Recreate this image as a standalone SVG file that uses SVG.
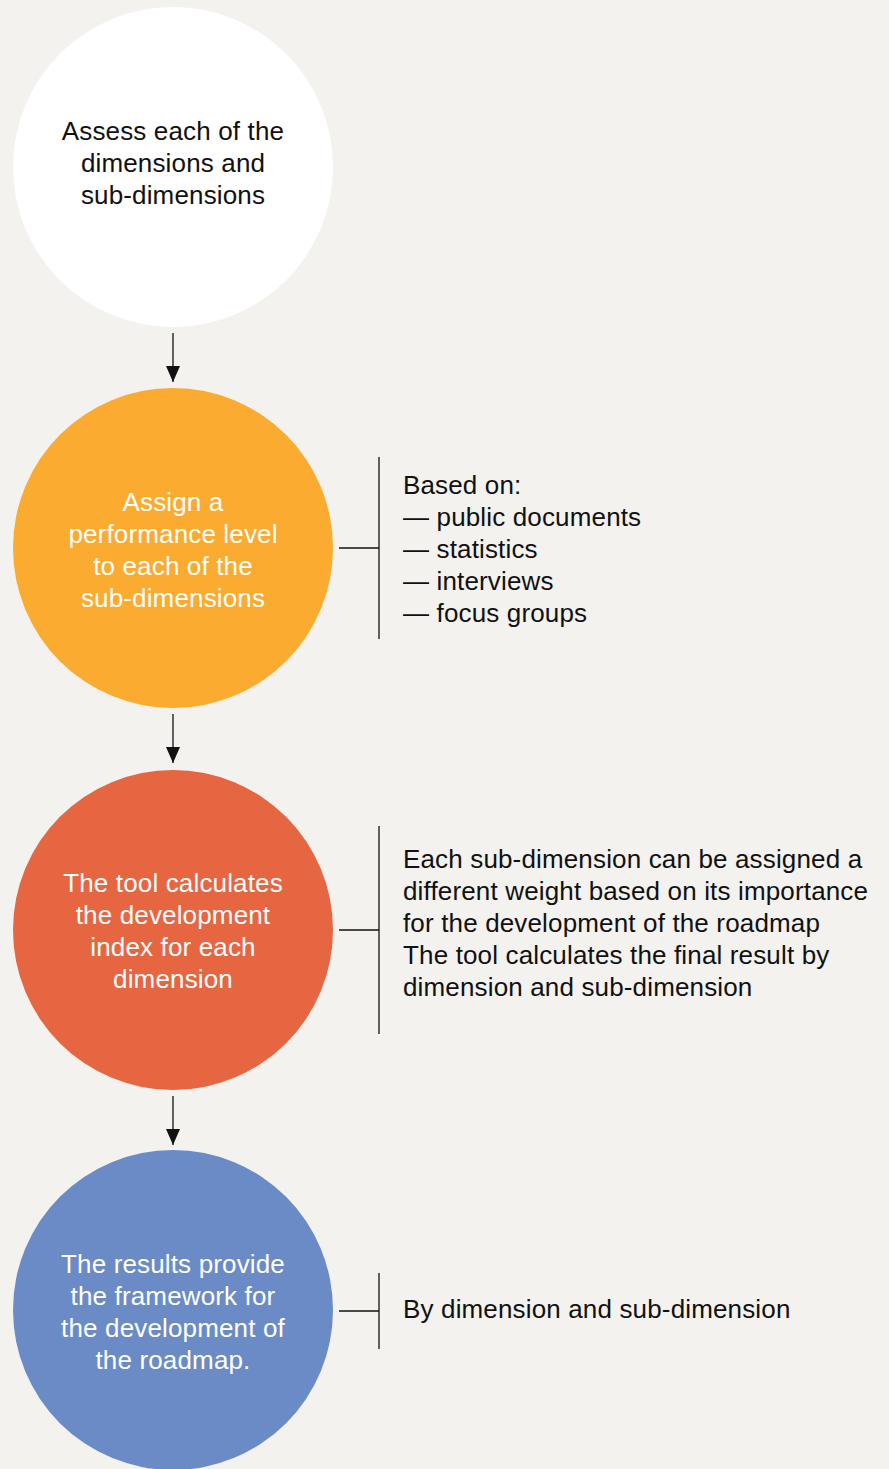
<svg xmlns="http://www.w3.org/2000/svg" width="889" height="1469" viewBox="0 0 889 1469">
<defs>
<style>
.t{font-family:"Liberation Sans",Arial,sans-serif;font-size:26px;letter-spacing:0.15px}
.c{text-anchor:middle}
.w{fill:#ffffff}
.k{fill:#111111}
.ln{stroke:#111111;stroke-width:1.3;fill:none}
</style>
<marker id="ah" viewBox="0 0 16 14" refX="16" refY="7" markerWidth="16" markerHeight="14" markerUnits="userSpaceOnUse" orient="auto">
<path d="M0,0 L16,7 L0,14 Z" fill="#111111"/>
</marker>
</defs>
<rect x="0" y="0" width="889" height="1469" fill="#f3f2ee"/>
<g id="connectors">
<line class="ln" x1="173" y1="333" x2="173" y2="382" marker-end="url(#ah)"/>
<line class="ln" x1="173" y1="714" x2="173" y2="763" marker-end="url(#ah)"/>
<line class="ln" x1="173" y1="1096" x2="173" y2="1145" marker-end="url(#ah)"/>
<line class="ln" x1="339" y1="548" x2="379" y2="548"/>
<line class="ln" x1="379" y1="457" x2="379" y2="639"/>
<line class="ln" x1="339" y1="930" x2="379" y2="930"/>
<line class="ln" x1="379" y1="826" x2="379" y2="1034"/>
<line class="ln" x1="339" y1="1311" x2="379" y2="1311"/>
<line class="ln" x1="379" y1="1273" x2="379" y2="1349"/>
</g>
<g id="node1">
<circle cx="173" cy="167" r="160" fill="#ffffff"/>
<text class="t c k" x="173"><tspan x="173" y="140">Assess each of the</tspan><tspan x="173" y="172">dimensions and</tspan><tspan x="173" y="204">sub-dimensions</tspan></text>
</g>
<g id="node2">
<circle cx="173" cy="548" r="160" fill="#fbab2f"/>
<text class="t c w"><tspan x="173" y="511">Assign a</tspan><tspan x="173" y="543">performance level</tspan><tspan x="173" y="575">to each of the</tspan><tspan x="173" y="607">sub-dimensions</tspan></text>
</g>
<g id="note2">
<text class="t k"><tspan x="403" y="494">Based on:</tspan><tspan x="403" y="526">— public documents</tspan><tspan x="403" y="558">— statistics</tspan><tspan x="403" y="590">— interviews</tspan><tspan x="403" y="622">— focus groups</tspan></text>
</g>
<g id="node3">
<circle cx="173" cy="930" r="160" fill="#e66641"/>
<text class="t c w"><tspan x="173" y="892">The tool calculates</tspan><tspan x="173" y="924">the development</tspan><tspan x="173" y="956">index for each</tspan><tspan x="173" y="988">dimension</tspan></text>
</g>
<g id="note3">
<text class="t k"><tspan x="403" y="868">Each sub-dimension can be assigned a</tspan><tspan x="403" y="900">different weight based on its importance</tspan><tspan x="403" y="932">for the development of the roadmap</tspan><tspan x="403" y="964">The tool calculates the final result by</tspan><tspan x="403" y="996">dimension and sub-dimension</tspan></text>
</g>
<g id="node4">
<circle cx="173" cy="1310" r="160" fill="#6a8bc6"/>
<text class="t c w"><tspan x="173" y="1273">The results provide</tspan><tspan x="173" y="1305">the framework for</tspan><tspan x="173" y="1337">the development of</tspan><tspan x="173" y="1369">the roadmap.</tspan></text>
</g>
<g id="note4">
<text class="t k"><tspan x="403" y="1318">By dimension and sub-dimension</tspan></text>
</g>
</svg>
